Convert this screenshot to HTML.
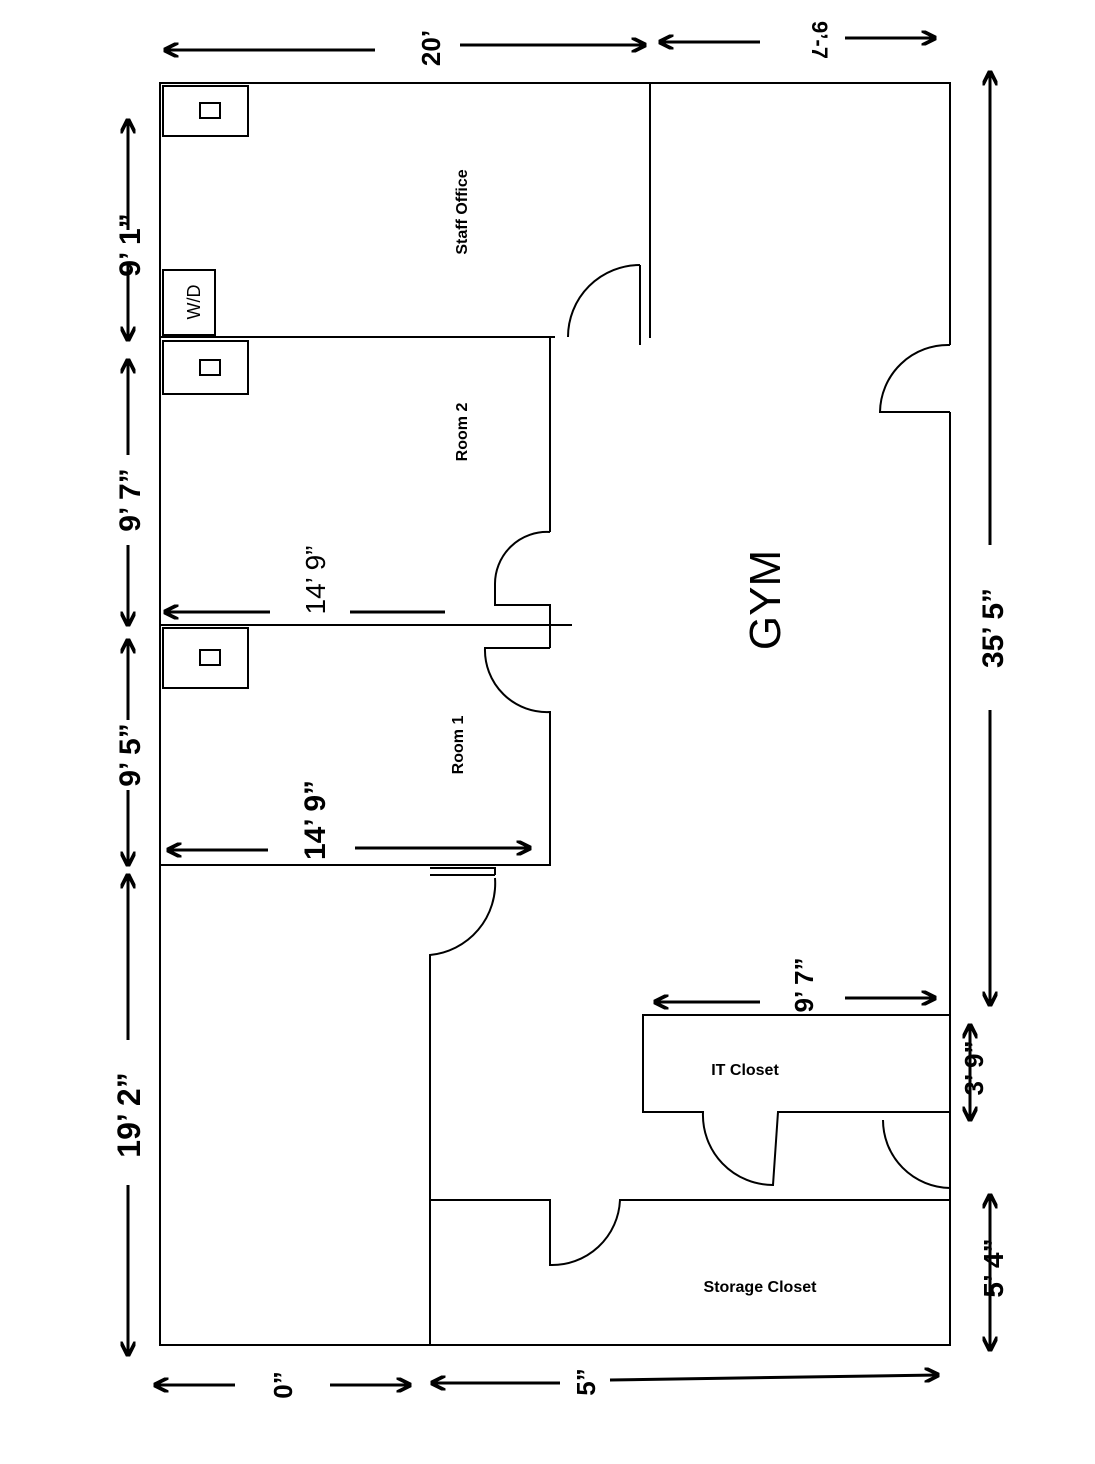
<!DOCTYPE html>
<html><head><meta charset="utf-8"><style>html,body{margin:0;padding:0;background:#fff}svg{display:block}</style></head>
<body>
<svg width="1095" height="1464" viewBox="0 0 1095 1464" xmlns="http://www.w3.org/2000/svg">
<defs>
<marker id="a" viewBox="0 0 10 10" refX="9" refY="5" markerWidth="5" markerHeight="5" orient="auto-start-reverse"><path d="M0,0 L10,5 L0,10" fill="none" stroke="#000" stroke-width="2.5"/></marker>
</defs>
<g stroke="#000" stroke-width="2" fill="none">
<!-- outer -->
<path d="M950,345 L950,83 L160,83 L160,1345 L950,1345 L950,412"/>
<!-- staff office -->
<path d="M650,83 L650,338"/>
<path d="M160,337 L555,337"/>
<path d="M640,265 L640,345"/>
<path d="M640,265 A72,72 0 0 0 568,337"/>
<!-- room 2 right wall -->
<path d="M550,337 L550,532"/>
<path d="M550,532 A52,52 0 0 0 495,585 L495,605 L550,605 L550,648"/>
<!-- room dividing wall -->
<path d="M160,625 L572,625"/>
<!-- room 1 -->
<path d="M550,648 L485,648 A62,62 0 0 0 550,712 L550,865 L160,865"/>
<!-- left big room -->
<path d="M430,868 L495,868 L495,875"/>
<path d="M430,875 L495,875"/>
<path d="M495,878 A72,72 0 0 1 430,955 L430,1345"/>
<!-- storage -->
<path d="M430,1200 L550,1200 L550,1265 A68,68 0 0 0 620,1200 L950,1200"/>
<!-- IT closet -->
<path d="M950,1015 L643,1015 L643,1112 L703,1112 A70,70 0 0 0 773,1185 L778,1112 L950,1112"/>
<path d="M950,1188 A68,68 0 0 1 883,1120"/>
<!-- gym door -->
<path d="M950,345 A68,68 0 0 0 880,412 L950,412"/>
<!-- small boxes -->
<rect x="163" y="86" width="85" height="50"/>
<rect x="200" y="103" width="20" height="15"/>
<rect x="163" y="341" width="85" height="53"/>
<rect x="200" y="360" width="20" height="15"/>
<rect x="163" y="628" width="85" height="60"/>
<rect x="200" y="650" width="20" height="15"/>
<rect x="163" y="270" width="52" height="65"/>
</g>
<!-- dimension arrows -->
<g stroke="#000" stroke-width="3" fill="none" marker-start="url(#a)" marker-end="url(#a)">
<path d="M165,50 L375,50" marker-end="none"/>
<path d="M460,45 L645,45" marker-start="none"/>
<path d="M660,42 L760,42" marker-end="none"/>
<path d="M845,38 L935,38" marker-start="none"/>
<path d="M128,120 L128,230" marker-end="none"/>
<path d="M128,265 L128,340" marker-start="none"/>
<path d="M128,360 L128,455" marker-end="none"/>
<path d="M128,545 L128,625" marker-start="none"/>
<path d="M128,640 L128,720" marker-end="none"/>
<path d="M128,790 L128,865" marker-start="none"/>
<path d="M128,875 L128,1040" marker-end="none"/>
<path d="M128,1185 L128,1355" marker-start="none"/>
<path d="M990,72 L990,545" marker-end="none"/>
<path d="M990,710 L990,1005" marker-start="none"/>
<path d="M168,850 L268,850" marker-end="none"/>
<path d="M355,848 L530,848" marker-start="none"/>
<path d="M655,1002 L760,1002" marker-end="none"/>
<path d="M845,998 L935,998" marker-start="none"/>
<path d="M165,612 L270,612" marker-end="none"/>
<path d="M155,1385 L235,1385" marker-end="none"/>
<path d="M330,1385 L410,1385" marker-start="none"/>
<path d="M432,1383 L560,1383" marker-end="none"/>
<path d="M610,1380 L938,1375" marker-start="none"/>
<path d="M970,1025 L970,1120"/>
<path d="M990,1195 L990,1350"/>
</g>
<path d="M350,612 L445,612" stroke="#000" stroke-width="3"/>
<g font-family="Liberation Sans, sans-serif" font-weight="bold" fill="#000">
<text transform="translate(440,48) rotate(-90)" font-size="26" text-anchor="middle">20’</text>
<text transform="translate(812,40) rotate(90)" font-size="22" text-anchor="middle">9’-7</text>
<text transform="translate(140,245) rotate(-90)" font-size="30" text-anchor="middle">9’ 1”</text>
<text transform="translate(140,500) rotate(-90)" font-size="30" text-anchor="middle">9’ 7”</text>
<text transform="translate(140,755) rotate(-90)" font-size="30" text-anchor="middle">9’ 5”</text>
<text transform="translate(140,1115) rotate(-90)" font-size="32" text-anchor="middle">19’ 2”</text>
<text transform="translate(1003,628) rotate(-90)" font-size="30" text-anchor="middle">35’ 5”</text>
<text transform="translate(325,820) rotate(-90)" font-size="30" text-anchor="middle">14’ 9”</text>
<text transform="translate(813,985) rotate(-90)" font-size="26" text-anchor="middle">9’ 7”</text>
<text transform="translate(983,1068) rotate(-90)" font-size="26" text-anchor="middle">3’ 9”</text>
<text transform="translate(1003,1268) rotate(-90)" font-size="28" text-anchor="middle">5’ 4”</text>
<text transform="translate(292,1385) rotate(-90)" font-size="26" text-anchor="middle">0”</text>
<text transform="translate(595,1382) rotate(-90)" font-size="26" text-anchor="middle">5”</text>
<text transform="translate(467,212) rotate(-90)" font-size="16" text-anchor="middle">Staff Office</text>
<text transform="translate(467,432) rotate(-90)" font-size="16" text-anchor="middle">Room 2</text>
<text transform="translate(463,745) rotate(-90)" font-size="16" text-anchor="middle">Room 1</text>
<text x="745" y="1075" font-size="16" text-anchor="middle">IT Closet</text>
<text x="760" y="1292" font-size="16" text-anchor="middle">Storage Closet</text>
</g>
<g font-family="Liberation Sans, sans-serif" fill="#000">
<text transform="translate(325,580) rotate(-90)" font-size="28" text-anchor="middle">14’ 9”</text>
<text transform="translate(780,600) rotate(-90)" font-size="44" text-anchor="middle">GYM</text>
<text transform="translate(200,302) rotate(-90)" font-size="18" text-anchor="middle">W/D</text>
</g>
</svg>
</body></html>
